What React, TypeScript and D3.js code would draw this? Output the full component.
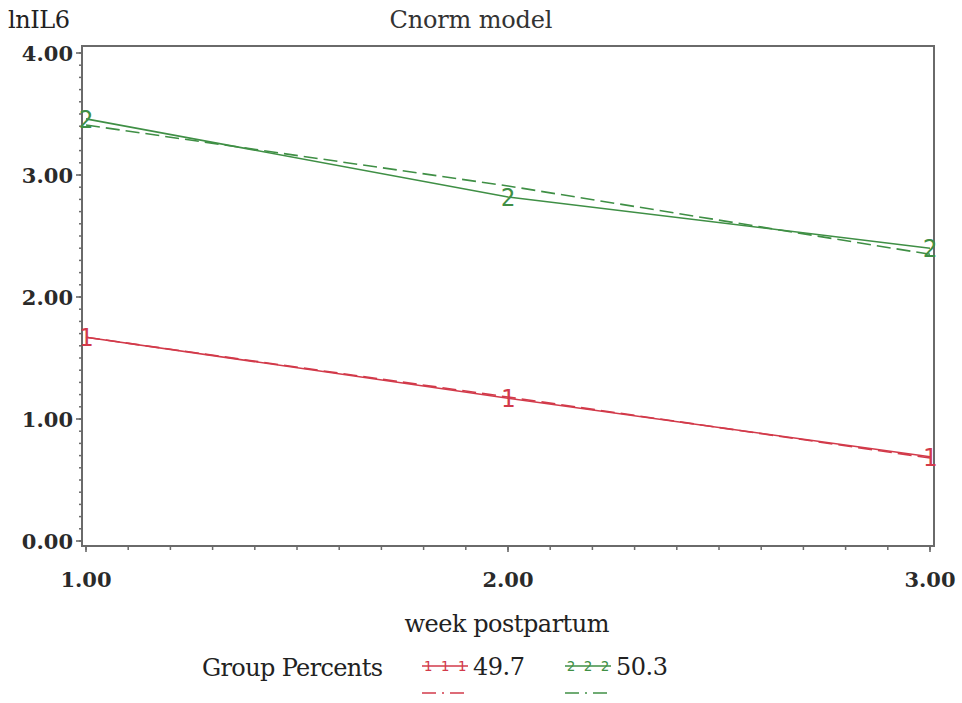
import * as d3 from "d3";

const WIDTH = 962;
const HEIGHT = 703;

const weeks = [1, 2, 3];
const group1Observed = [1.67, 1.17, 0.69];
const group1Fitted = [1.67, 1.18, 0.68];
const group2Observed = [3.46, 2.82, 2.4];
const group2Fitted = [3.41, 2.91, 2.35];

const yTicks = [0, 1, 2, 3, 4];
const xTicks = [1, 2, 3];
const legendLabels = ["49.7", "50.3"];

const RED = "#d23a4a";
const GREEN = "#3f8f45";
const AXIS = "#6a6a6a";
const FONT = "'DejaVu Serif', 'Liberation Serif', serif";

const x = d3.scaleLinear().domain([1, 3]).range([86, 930]);
const y = d3.scaleLinear().domain([0, 4]).range([541, 53]);

const frame = { left: 82, right: 934, top: 46, bottom: 546 };

const line = d3
  .line<number>()
  .x((_, i) => x(weeks[i]))
  .y((v) => y(v));

const yMinor = d3.range(0, 40.5, 1).map((v) => v / 10);
const xMinor = d3.range(10, 30.5, 1).map((v) => v / 10);

function Series({ observed, fitted, color, symbol }: { observed: number[]; fitted: number[]; color: string; symbol: string }) {
  return (
    <g>
      <path d={line(fitted) ?? ""} fill="none" stroke={color} strokeWidth={1.6} strokeDasharray="14 6" />
      <path d={line(observed) ?? ""} fill="none" stroke={color} strokeWidth={1.6} />
      {observed.map((v, i) => (
        <text
          key={i}
          x={x(weeks[i])}
          y={y(v) + 9}
          textAnchor="middle"
          fontFamily="'DejaVu Sans Mono', monospace"
          fontSize={24}
          fontWeight={200}
          fill={color}
        >
          {symbol}
        </text>
      ))}
    </g>
  );
}

function LegendItem({ x0, color, symbol, label }: { x0: number; color: string; symbol: string; label: string }) {
  const ly = 666;
  return (
    <g>
      <line x1={x0} x2={x0 + 46} y1={ly} y2={ly} stroke={color} strokeWidth={1.4} />
      {[0, 1, 2].map((k) => (
        <text
          key={k}
          x={x0 + 6 + k * 17}
          y={ly + 5}
          textAnchor="middle"
          fontFamily="'DejaVu Sans Mono', monospace"
          fontSize={14}
          fill={color}
        >
          {symbol}
        </text>
      ))}
      <line x1={x0} x2={x0 + 46} y1={ly + 27} y2={ly + 27} stroke={color} strokeWidth={1.8} strokeDasharray="14 6 2 6" opacity={0.75} />
      <text x={x0 + 51} y={ly + 9} fontFamily={FONT} fontSize={24} fill="#222" textLength={52}>
        {label}
      </text>
    </g>
  );
}

export default function App() {
  return (
    <svg
      width={WIDTH}
      height={HEIGHT}
      viewBox={`0 0 ${WIDTH} ${HEIGHT}`}
      style={{ position: "absolute", left: 0, top: 0, background: "#fff" }}
    >
      <rect width={WIDTH} height={HEIGHT} fill="#fff" />

      <text x={471} y={28} textAnchor="middle" fontFamily={FONT} fontSize={24} fill="#333" textLength={163}>
        Cnorm model
      </text>
      <text x={8} y={28} fontFamily={FONT} fontSize={24} fill="#222" textLength={62}>
        lnIL6
      </text>

      <rect
        x={frame.left}
        y={frame.top}
        width={frame.right - frame.left}
        height={frame.bottom - frame.top}
        fill="none"
        stroke={AXIS}
        strokeWidth={2}
      />

      {yMinor.map((v) => (
        <line key={"ym" + v} x1={frame.left - 3} x2={frame.left} y1={y(v)} y2={y(v)} stroke={AXIS} strokeWidth={1.5} />
      ))}
      {yTicks.map((v) => (
        <g key={"y" + v}>
          <line x1={frame.left - 6} x2={frame.left} y1={y(v)} y2={y(v)} stroke={AXIS} strokeWidth={1.6} />
          <text
            x={73}
            y={y(v) + 8}
            textAnchor="end"
            fontFamily={FONT}
            fontSize={21}
            fontWeight={600}
            fill="#2a2a2a"
          >
            {d3.format(".2f")(v)}
          </text>
        </g>
      ))}

      {xMinor.map((v) => (
        <line key={"xm" + v} x1={x(v)} x2={x(v)} y1={frame.bottom} y2={frame.bottom + 4} stroke={AXIS} strokeWidth={1.5} />
      ))}
      {xTicks.map((v) => (
        <g key={"x" + v}>
          <line x1={x(v)} x2={x(v)} y1={frame.bottom} y2={frame.bottom + 6} stroke={AXIS} strokeWidth={1.6} />
          <text
            x={x(v)}
            y={587}
            textAnchor="middle"
            fontFamily={FONT}
            fontSize={21}
            fontWeight={600}
            fill="#2a2a2a"
          >
            {d3.format(".2f")(v)}
          </text>
        </g>
      ))}

      <Series observed={group2Observed} fitted={group2Fitted} color={GREEN} symbol="2" />
      <Series observed={group1Observed} fitted={group1Fitted} color={RED} symbol="1" />

      <text x={507} y={632} textAnchor="middle" fontFamily={FONT} fontSize={24} fill="#222" textLength={205}>
        week postpartum
      </text>

      <text x={202} y={676} fontFamily={FONT} fontSize={24} fill="#222" textLength={181}>
        Group Percents
      </text>
      <LegendItem x0={422} color={RED} symbol="1" label={legendLabels[0]} />
      <LegendItem x0={565} color={GREEN} symbol="2" label={legendLabels[1]} />
    </svg>
  );
}
